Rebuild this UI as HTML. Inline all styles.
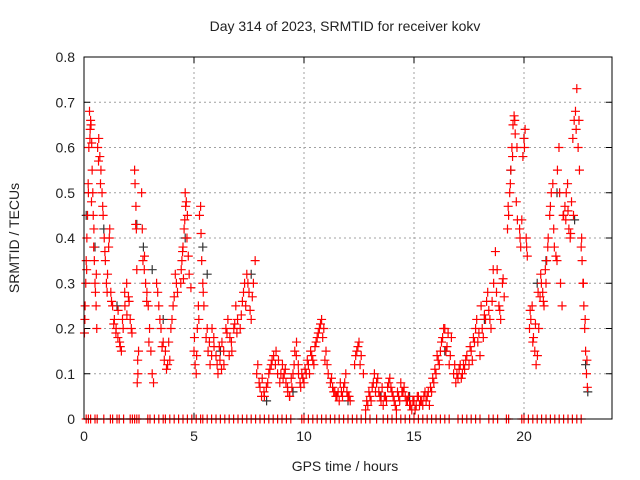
<!DOCTYPE html>
<html><head><meta charset="utf-8"><style>
html,body{margin:0;padding:0;background:#fff;}
svg{display:block;font-family:"Liberation Sans",sans-serif;}
</style></head><body>
<svg id="chart" width="640" height="480">
<text x="345" y="31" text-anchor="middle" font-size="14" fill="#222">Day 314 of 2023, SRMTID for receiver kokv</text>
<text x="345" y="471" text-anchor="middle" font-size="14" fill="#222">GPS time / hours</text>
<text transform="translate(19,238) rotate(-90)" text-anchor="middle" font-size="14" fill="#222">SRMTID / TECUs</text>
<g id="grid"></g>
<g id="axes"></g>
<g id="marks"></g>
<rect x="84" y="57" width="528" height="362" fill="none" stroke="#000" stroke-width="1"/>
</svg>
<script>
const xTicks=[0,5,10,15,20];
const yTicks=[0,0.1,0.2,0.3,0.4,0.5,0.6,0.7,0.8];
const yTickLabels=["0","0.1","0.2","0.3","0.4","0.5","0.6","0.7","0.8"];
const redT=[0.02,0.05,0.08,0.1,0.13,0.16,0.19,0.22,0.25,0.28,
0.3,0.32,0.35,0.37,0.4,0.42,0.45,0.47,0.5,0.52,0.55,0.58,
0.62,0.67,0.72,0.77,0.82,0.87,0.92,0.97,1.02,1.07,1.12,1.17,
1.22,1.3,1.38,1.46,1.54,1.62,1.7,1.78,1.86,1.94,2.02,2.1,2.18,
2.3,2.32,2.35,2.38,2.4,2.42,2.45,2.48,
2.62,2.68,2.74,2.8,2.86,2.92,2.98,3.04,3.1,3.16,
3.3,3.4,3.5,3.6,3.7,3.8,3.9,4.0,4.1,4.2,
4.4,4.45,4.5,4.55,4.6,4.65,4.7,4.78,4.86,
5.0,5.05,5.1,5.15,5.2,5.25,5.3,5.35,5.4,5.45,
5.55,5.64,5.73,5.82,5.91,6.0,6.09,6.18,6.27,6.36,6.45,6.54,6.63,6.72,6.81,6.9,6.98,
7.1,7.2,7.3,7.4,7.5,7.6,7.7,7.78,
7.85,7.96,8.07,8.18,8.29,8.4,8.51,8.62,8.73,8.84,8.95,
9.02,9.1,9.18,9.26,9.34,9.42,9.5,9.58,9.66,9.74,9.82,9.9,
10.0,10.1,10.2,10.3,10.4,10.5,10.6,10.7,10.8,10.9,11.0,11.1,
11.2,11.3,11.4,11.5,11.6,11.7,11.8,11.9,12.0,12.1,
12.3,12.4,12.5,12.6,12.7,
12.8,12.9,13.0,13.1,13.2,13.3,13.4,13.5,13.6,13.7,13.8,13.9,14.0,14.1,14.2,14.3,
14.4,14.5,14.6,14.7,14.8,14.9,15.0,15.1,15.2,15.3,15.4,15.5,15.6,15.7,
15.8,15.9,16.0,16.1,16.2,16.3,16.4,16.5,16.6,16.7,
16.8,16.9,17.0,17.1,17.2,17.3,17.4,
17.5,17.6,17.7,17.8,17.9,18.0,18.1,18.2,18.3,18.4,18.5,
18.55,18.62,18.7,18.78,18.86,18.94,19.02,19.1,
19.25,19.3,19.35,19.4,19.45,19.5,19.55,19.6,19.65,19.7,
19.8,19.85,19.95,20.0,20.05,20.1,20.15,
20.25,20.31,20.37,20.43,20.49,20.55,20.61,20.67,20.73,20.79,20.85,20.91,20.97,
21.03,21.1,21.17,21.24,21.31,21.38,21.45,21.52,21.59,21.66,21.73,
21.8,21.86,21.92,21.98,22.04,22.1,22.16,22.22,22.28,22.34,22.4,22.46,22.52,
22.6,22.64,22.68,22.72,22.76,22.8,22.84,22.88];
const redV=[0.19,0.25,0.3,0.35,0.4,0.45,0.52,0.6,0.68,0.64,
0.66,0.65,0.61,0.55,0.5,0.45,0.42,0.35,0.3,0.28,0.25,0.2,
0.6,0.62,0.58,0.55,0.5,0.45,0.4,0.35,0.3,0.32,0.38,0.42,
0.28,0.25,0.22,0.2,0.18,0.17,0.15,0.2,0.25,0.3,0.27,0.22,0.19,
0.55,0.52,0.43,0.42,0.33,0.08,0.1,0.15,
0.5,0.35,0.33,0.3,0.28,0.25,0.2,0.15,0.1,0.08,
0.3,0.25,0.2,0.17,0.15,0.12,0.13,0.22,0.27,0.3,
0.3,0.35,0.38,0.42,0.5,0.48,0.45,0.32,0.29,
0.15,0.12,0.1,0.2,0.25,0.45,0.47,0.35,0.3,0.25,
0.18,0.15,0.12,0.2,0.16,0.14,0.1,0.13,0.17,0.12,0.2,0.22,0.18,0.15,0.2,0.25,0.22,
0.2,0.26,0.3,0.32,0.28,0.22,0.3,0.35,
0.1,0.08,0.05,0.06,0.07,0.1,0.12,0.14,0.15,0.13,0.1,
0.12,0.1,0.08,0.06,0.05,0.09,0.1,0.15,0.17,0.12,0.08,0.1,
0.08,0.1,0.12,0.15,0.13,0.16,0.18,0.2,0.22,0.2,0.15,0.1,
0.08,0.07,0.06,0.05,0.04,0.06,0.07,0.1,0.05,0.04,
0.12,0.15,0.17,0.14,0.1,
0.02,0.03,0.05,0.07,0.1,0.08,0.06,0.04,0.03,0.05,0.07,0.09,0.06,0.04,0.02,0.05,
0.08,0.06,0.05,0.04,0.03,0.02,0.04,0.03,0.05,0.04,0.03,0.06,0.05,0.03,
0.06,0.08,0.1,0.13,0.15,0.18,0.2,0.16,0.12,0.18,
0.1,0.08,0.09,0.12,0.1,0.11,0.14,
0.12,0.15,0.18,0.2,0.17,0.14,0.2,0.23,0.26,0.24,0.2,
0.26,0.3,0.37,0.33,0.25,0.22,0.3,0.27,
0.42,0.45,0.5,0.55,0.6,0.65,0.67,0.63,0.48,0.44,
0.42,0.38,0.58,0.62,0.64,0.4,0.36,
0.2,0.22,0.25,0.18,0.15,0.12,0.14,0.2,0.27,0.3,0.28,0.25,0.33,
0.35,0.4,0.45,0.5,0.52,0.38,0.36,0.55,0.6,0.3,0.25,
0.45,0.47,0.5,0.52,0.42,0.4,0.48,0.62,0.66,0.68,0.73,0.6,0.55,
0.38,0.35,0.3,0.25,0.2,0.15,0.1,0.07];
const red2T=[0.04,0.12,0.2,0.27,0.34,0.44,0.56,0.66,0.75,0.85,0.95,1.05,1.15,
1.25,1.35,1.45,1.55,1.65,1.75,1.85,1.95,2.05,2.15,2.36,2.44,
2.65,2.75,2.85,2.95,3.35,3.45,3.55,3.65,3.75,3.85,3.95,4.05,4.15,4.25,
4.42,4.48,4.52,4.58,4.62,4.68,4.74,5.02,5.12,5.22,5.32,5.42,
5.6,5.7,5.8,5.9,6.05,6.15,6.25,6.35,6.5,6.6,6.7,6.85,6.95,
7.15,7.25,7.35,7.45,7.55,7.65,7.9,8.0,8.1,8.2,8.35,8.45,8.55,8.7,8.8,8.9,
9.05,9.15,9.25,9.35,9.45,9.55,9.65,9.75,9.85,9.95,10.05,10.15,10.25,10.35,10.45,10.55,10.65,10.75,10.85,10.95,11.05,
11.25,11.35,11.45,11.55,11.65,11.75,11.85,11.95,12.05,12.35,12.45,12.55,
12.85,12.95,13.05,13.15,13.25,13.35,13.45,13.55,13.65,13.75,13.85,13.95,14.05,14.15,14.25,14.35,
14.45,14.55,14.65,14.75,14.85,14.95,15.05,15.15,15.25,15.35,15.45,15.55,15.65,15.75,
15.85,15.95,16.05,16.15,16.25,16.35,16.45,16.55,16.65,16.85,16.95,17.05,17.15,17.25,17.35,
17.55,17.65,17.75,17.85,17.95,18.05,18.15,18.25,18.35,18.45,18.6,18.75,18.9,19.05,
19.28,19.38,19.48,19.58,19.68,19.82,19.9,20.02,20.12,20.28,20.4,20.52,20.64,20.76,20.88,21.0,
21.08,21.2,21.35,21.5,21.62,21.78,21.9,22.0,22.12,22.25,22.37,22.5,22.62,22.7,22.78,22.86];
const red2V=[0.22,0.33,0.5,0.62,0.48,0.38,0.32,0.57,0.52,0.47,0.37,0.28,0.4,
0.26,0.21,0.19,0.24,0.16,0.22,0.28,0.23,0.26,0.2,0.47,0.13,
0.42,0.36,0.26,0.17,0.28,0.22,0.16,0.13,0.11,0.17,0.2,0.25,0.32,0.28,
0.33,0.37,0.31,0.44,0.47,0.4,0.36,0.18,0.14,0.22,0.41,0.28,
0.2,0.17,0.14,0.18,0.12,0.16,0.11,0.15,0.19,0.14,0.17,0.21,0.19,
0.23,0.28,0.25,0.3,0.24,0.27,0.12,0.07,0.09,0.05,0.08,0.11,0.13,0.12,0.1,0.08,
0.09,0.11,0.07,0.05,0.07,0.12,0.14,0.1,0.07,0.09,0.11,0.13,0.1,0.14,0.12,0.17,0.19,0.21,0.18,0.13,0.12,
0.09,0.06,0.05,0.06,0.08,0.05,0.08,0.06,0.05,0.14,0.16,0.12,
0.04,0.06,0.04,0.08,0.06,0.09,0.05,0.07,0.05,0.04,0.08,0.07,0.05,0.03,0.06,0.04,
0.06,0.07,0.04,0.05,0.03,0.04,0.02,0.05,0.03,0.04,0.05,0.04,0.06,0.07,
0.09,0.11,0.14,0.12,0.17,0.2,0.15,0.19,0.14,0.12,0.1,0.11,0.09,0.12,0.13,
0.16,0.13,0.17,0.22,0.19,0.25,0.18,0.22,0.28,0.22,0.33,0.28,0.24,0.31,
0.47,0.52,0.58,0.66,0.6,0.4,0.44,0.6,0.38,0.24,0.17,0.21,0.28,0.32,0.26,0.3,
0.38,0.47,0.42,0.35,0.5,0.45,0.44,0.46,0.41,0.45,0.64,0.66,0.4,0.3,0.22,0.13];
const blackT=[0.1,0.5,0.9,1.5,2.4,2.7,3.1,3.6,4.6,5.4,5.6,6.2,7.6,8.3,9.5,12.0,13.5,14.8,16.4,18.2,19.4,20.0,20.6,21.0,21.5,22.3,22.8,22.9];
const blackV=[0.45,0.38,0.42,0.25,0.43,0.38,0.33,0.22,0.4,0.38,0.32,0.15,0.32,0.04,0.06,0.04,0.05,0.05,0.15,0.22,0.55,0.62,0.3,0.35,0.5,0.44,0.12,0.06];
const zeroT=[0.1,0.2,0.3,0.5,0.6,0.9,1.2,1.3,1.5,1.6,1.8,2.1,2.2,2.3,2.4,2.5,2.9,3.0,3.2,3.4,3.6,3.7,3.9,4.1,4.3,4.5,4.7,4.9,5.1,5.3,5.4,5.6,5.8,6.0,6.2,6.4,6.6,6.8,7.0,7.2,7.4,7.6,7.8,8.0,8.2,8.4,8.6,8.8,9.0,9.2,9.4,9.9,10.0,10.2,10.4,10.6,10.8,11.0,11.2,11.4,11.6,11.8,12.0,12.2,12.4,12.6,12.8,13.0,13.3,13.6,13.8,14.0,14.2,14.4,14.6,14.8,15.0,15.2,15.4,15.6,15.8,16.0,16.2,16.4,16.6,17.0,17.2,17.4,17.6,17.8,18.0,18.4,18.6,18.8,19.2,19.3,19.9,20.0,20.2,20.4,20.6,20.8,21.0,21.2,21.4,21.6,21.8,22.0,22.2,22.4,22.6];
const NS='http://www.w3.org/2000/svg';
const X0=84,X1=612,Y0=419,Y1=57,XMAX=24,YMAX=0.8;
function xs(t){return X0+(t/XMAX)*(X1-X0);}
function ys(v){return Y0-(v/YMAX)*(Y0-Y1);}
function mk(tag,attrs,parent){const e=document.createElementNS(NS,tag);for(const k in attrs)e.setAttribute(k,attrs[k]);parent.appendChild(e);return e;}
const grid=document.getElementById('grid'),axes=document.getElementById('axes'),marks=document.getElementById('marks');
yTicks.forEach((v,i)=>{const y=ys(v);
 if(v>0&&v<YMAX){const g=mk('line',{x1:X0,x2:X1,y1:y,y2:y,stroke:'#a0a0a0','stroke-dasharray':'2,3'},grid);
 
 }
 mk('line',{x1:X0,x2:X0+6,y1:y,y2:y,stroke:'#000'},axes);
 mk('line',{x1:X1-6,x2:X1,y1:y,y2:y,stroke:'#000'},axes);
 const t=mk('text',{x:X0-9,y:y+5,'text-anchor':'end','font-size':14,fill:'#222'},axes);t.textContent=yTickLabels[i];
 
 });
xTicks.forEach(v=>{const x=xs(v);
 if(v>0){const g=mk('line',{x1:x,x2:x,y1:Y1,y2:Y0,stroke:'#a0a0a0','stroke-dasharray':'2,3'},grid);
 
 }
 mk('line',{x1:x,x2:x,y1:Y0,y2:Y0-6,stroke:'#000'},axes);
 mk('line',{x1:x,x2:x,y1:Y1,y2:Y1+6,stroke:'#000'},axes);
 const t=mk('text',{x:x,y:Y0+22,'text-anchor':'middle','font-size':14,fill:'#222'},axes);t.textContent=String(v);
 
 });
function plus(t,v,color,name){const x=xs(t),y=ys(v);
 const p=mk('path',{d:`M${x-4.5},${y}H${x+4.5}M${x},${y-4.5}V${y+4.5}`,stroke:color,'stroke-width':1.2,fill:'none'},marks);
 
 }
const nB=Math.min(blackT.length,blackV.length);
for(let i=0;i<nB;i++)plus(blackT[i],blackV[i],'#333','black-point');
const nR=Math.min(redT.length,redV.length);
for(let i=0;i<nR;i++)plus(redT[i],redV[i],'#ff0000','red-point');
const nR2=Math.min(red2T.length,red2V.length);
for(let i=0;i<nR2;i++)plus(red2T[i],red2V[i],'#ff0000','red-point');
zeroT.forEach(t=>plus(t,0,'#ff0000','zero-point'));
</script>
</body></html>
